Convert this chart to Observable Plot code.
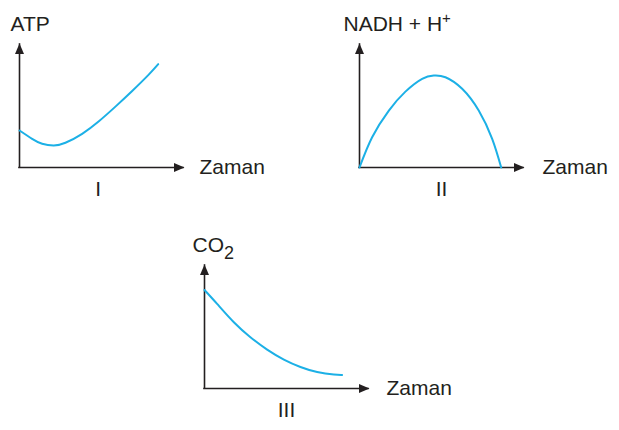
<!DOCTYPE html>
<html>
<head>
<meta charset="utf-8">
<script src="https://cdn.jsdelivr.net/npm/d3@7"></script>
<script src="https://cdn.jsdelivr.net/npm/@observablehq/plot@0.6"></script>
<style>
  html, body { margin: 0; padding: 0; background: #fff; }
  #chart { position: relative; width: 619px; height: 430px; overflow: hidden; background: #fff; }
  #chart svg { position: absolute; overflow: visible; max-width: none; }
</style>
</head>
<body>
<div id="chart"></div>
<script>
// ---- Data ----
const timeI   = [0, 0.77, 1.38, 2.09, 2.80, 3.82, 4.84, 5.85, 6.87, 7.88, 8.46];
const atp     = [3.01, 2.33, 1.93, 1.79, 2.01, 2.74, 3.76, 4.95, 6.22, 7.55, 8.40];

const timeII  = [0, 0.77, 1.79, 2.80, 3.82, 4.53, 5.24, 6.26, 7.27, 8.09, 8.64];
const nadh    = [0, 2.46, 4.63, 6.17, 7.21, 7.48, 7.34, 6.40, 4.63, 2.33, 0];

const timeIII = [0, 0.77, 1.79, 2.80, 3.82, 4.84, 5.85, 6.87, 7.89, 8.39];
const co2     = [8.01, 6.88, 5.39, 4.17, 3.16, 2.35, 1.75, 1.34, 1.13, 1.10];

const yLabels = ["ATP", "NADH + H+", "CO2"];
const xLabel  = "Zaman";
const panelNames = ["I", "II", "III"];

// ---- Layout / style ----
const INK = "#231f20";
const CYAN = "#1cb0e6";
const FONT = "'Liberation Sans', Arial, Helvetica, sans-serif";
const FS = 21;
const M = {top: 50, right: 100, bottom: 45, left: 40};
const FW = 164, FH = 123;

const arrowHead = {
  draw(ctx) {
    ctx.moveTo(0, -1);
    ctx.lineTo(-4.5, 9.5);
    ctx.lineTo(4.5, 9.5);
    ctx.closePath();
  }
};

const panels = [
  {t: timeI,   v: atp,  ox: 19,  oy: 167, ylab: yLabels[0], name: panelNames[0], yDx: -9,  zDx: 16, nameX: 4.8},
  {t: timeII,  v: nadh, ox: 359, oy: 167, ylab: yLabels[1], name: panelNames[1], yDx: -16, zDx: 19, nameX: 5.0},
  {t: timeIII, v: co2,  ox: 204, oy: 388, ylab: yLabels[2], name: panelNames[2], yDx: -12, zDx: 18, nameX: 5.0}
];

const chart = document.getElementById("chart");

for (const p of panels) {
  const data = p.t.map((t, i) => ({t, v: p.v[i]}));
  const svg = Plot.plot({
    width: M.left + FW + M.right,
    height: M.top + FH + M.bottom,
    marginTop: M.top, marginRight: M.right, marginBottom: M.bottom, marginLeft: M.left,
    x: {domain: [0, 10], axis: null},
    y: {domain: [0, 10], axis: null},
    style: {background: "transparent", fontFamily: FONT, overflow: "visible"},
    marks: [
      Plot.ruleY([0], {x1: 0, x2: 10, stroke: INK, strokeWidth: 1.6, strokeLinecap: "square"}),
      Plot.ruleX([0], {y1: 0, y2: 10, stroke: INK, strokeWidth: 1.6, strokeLinecap: "square"}),
      Plot.dot([{x: 0, y: 10, r: 0}, {x: 10, y: 0, r: 90}],
        {x: "x", y: "y", rotate: "r", symbol: arrowHead, fill: INK, stroke: "none"}),
      Plot.line(data, {x: "t", y: "v", stroke: CYAN, strokeWidth: 2, curve: "natural"}),
      Plot.text([p.ylab], {x: 0, y: 10, text: d => d, textAnchor: "start", dx: p.yDx, dy: -20,
        fontSize: FS, fontFamily: FONT, fill: INK}),
      Plot.text([xLabel], {x: 10, y: 0, text: d => d, textAnchor: "start", dx: p.zDx, dy: 0,
        fontSize: FS, fontFamily: FONT, fill: INK}),
      Plot.text([p.name], {x: p.nameX, y: 0, text: d => d, dy: 22,
        fontSize: FS, fontFamily: FONT, fill: INK})
    ]
  });
  svg.style.left = (p.ox - M.left) + "px";
  svg.style.top = (p.oy - FH - M.top) + "px";
  // superscript / subscript
  d3.select(svg).selectAll("text").each(function() {
    const txt = this.textContent;
    if (txt === "NADH + H+") {
      const sel = d3.select(this);
      sel.text("NADH + H");
      sel.append("tspan").attr("dy", "-0.55em").attr("font-size", 15).text("+");
    } else if (txt === "CO2") {
      const sel = d3.select(this);
      sel.text("CO");
      sel.append("tspan").attr("dy", "0.35em").attr("font-size", 18).text("2");
    }
  });
  chart.appendChild(svg);
}
</script>
</body>
</html>
